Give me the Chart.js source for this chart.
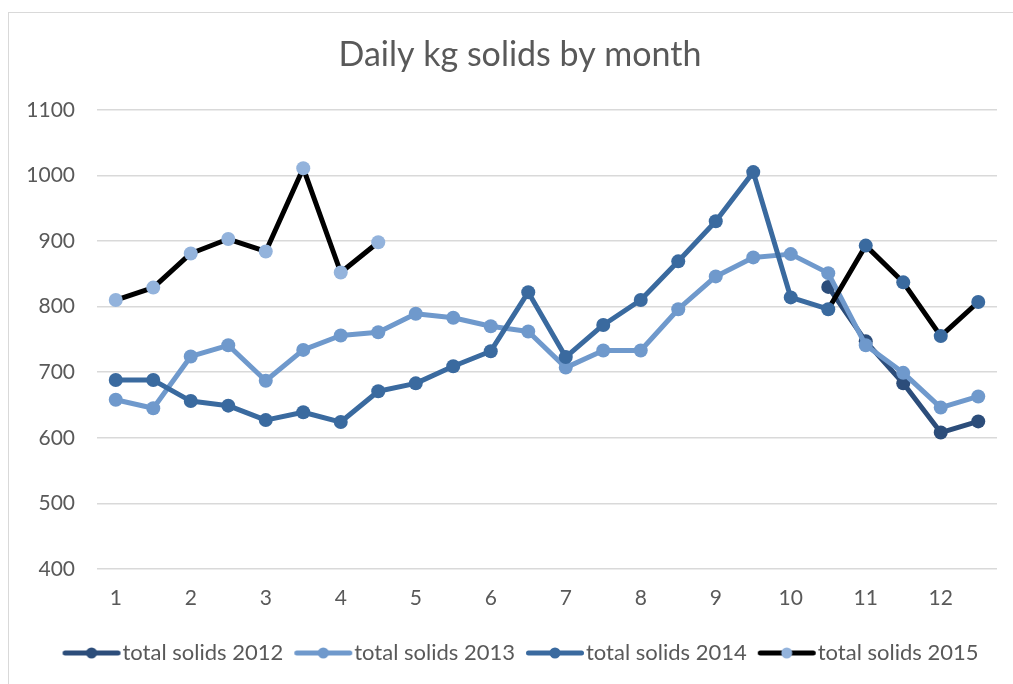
<!DOCTYPE html>
<html>
<head>
<meta charset="utf-8">
<script src="https://cdn.jsdelivr.net/npm/chart.js@4.4.0/dist/chart.umd.min.js"></script>
<style>
  body { margin: 0; background: #fff; overflow: hidden; }
  #frame { position: absolute; left: 8px; top: 12px; width: 1100px; height: 800px;
           border-left: 1px solid #d9d9d9; border-top: 1px solid #d9d9d9; }
  #box { position: absolute; left: 0; top: 0; width: 1040px; height: 684px; }
</style>
</head>
<body>
<div id="frame"></div>
<div id="box"><canvas id="myChart"></canvas></div>
<script>
// ~ data, two readings per month ~
const months = ["1", "", "2", "", "3", "", "4", "", "5", "", "6", "", "7", "", "8", "", "9", "", "10", "", "11", "", "12", ""];
const solids2012 = [null, null, null, null, null, null, null, null, null, null, null, null,
  null, null, null, null, null, null, null, 830, 747, 683, 608, 625];
const solids2013 = [658, 645, 724, 741, 687, 734, 756, 761, 789, 783, 770, 762,
  707, 733, 733, 796, 846, 875, 880, 851, 741, 699, 646, 663];
const solids2014 = [688, 688, 656, 649, 627, 639, 624, 671, 683, 709, 732, 822,
  723, 772, 810, 869, 930, 1005, 814, 796, 893, 837, 755, 807];
const solids2015 = [810, 829, 881, 903, 884, 1011, 852, 898, null, null, null, null,
  null, null, null, null, null, null, null, null, null, null, null, null];
const yMin = 400, yMax = 1100, yStep = 100;

const grey = "#595959";
const c2012 = "#2c4d7a", c2013 = "#6f99cc", c2014 = "#3a6a9f", c2015 = "#93b3dc";
const blackFrom = 19; // 2014 line turns black from here on

// legend sample: thick line with a dot in the middle
// (canvas is centred on the legend box, line sits a bit right of centre)
function swatch(line, dot) {
  const c = document.createElement("canvas");
  c.width = 70; c.height = 14;
  const g = c.getContext("2d");
  g.strokeStyle = line; g.lineWidth = 5; g.lineCap = "round";
  g.beginPath(); g.moveTo(13.5, 7); g.lineTo(66.5, 7); g.stroke();
  g.fillStyle = dot;
  g.beginPath(); g.arc(40, 7, 5.5, 0, Math.PI * 2); g.fill();
  return c;
}
const swatches = [swatch(c2012, c2012), swatch(c2013, c2013), swatch(c2014, c2014), swatch("#000", c2015)];

function series(label, data, line, dot, order) {
  return {
    label: label, data: data, order: order,
    borderColor: line, backgroundColor: dot,
    pointBackgroundColor: dot, pointBorderColor: dot,
    borderWidth: 5, pointRadius: 7, pointBorderWidth: 0,
    tension: 0, borderJoinStyle: "round", spanGaps: false
  };
}

const ds2014 = series("total solids 2014", solids2014, c2014, c2014, 1);
ds2014.segment = { borderColor: ctx => ctx.p0DataIndex >= blackFrom ? "#000" : undefined };

new Chart(document.getElementById("myChart"), {
  type: "line",
  data: {
    labels: months,
    datasets: [
      series("total solids 2012", solids2012, c2012, c2012, 3),
      series("total solids 2013", solids2013, c2013, c2013, 2),
      ds2014,
      series("total solids 2015", solids2015, "#000", c2015, 0)
    ]
  },
  options: {
    responsive: true,
    maintainAspectRatio: false,
    animation: false,
    layout: { padding: { left: 0, right: 0, top: 0, bottom: 10 } },
    plugins: {
      tooltip: { enabled: false },
      title: {
        display: true,
        text: "Daily kg solids by month",
        color: grey,
        font: { family: "Lato", size: 34, weight: "normal" },
        padding: { top: 35, bottom: 34 }
      },
      legend: {
        position: "bottom",
        labels: {
          usePointStyle: true,
          pointStyleWidth: 50,
          padding: 10,
          color: grey,
          font: { family: "Lato", size: 22 },
          generateLabels: chart => chart.data.datasets.map((d, i) => ({
            text: d.label, pointStyle: swatches[i], fontColor: grey,
            datasetIndex: i, hidden: false, lineWidth: 0,
            strokeStyle: "transparent", fillStyle: "transparent"
          }))
        }
      }
    },
    scales: {
      x: {
        offset: true,
        grid: { display: false, drawTicks: false },
        border: { display: false },
        ticks: { autoSkip: false, maxRotation: 0, padding: 17, color: grey,
                 font: { family: "Lato", size: 21 } },
        afterFit: s => { s.height = 63; }
      },
      y: {
        min: yMin, max: yMax,
        grid: { color: "#d9d9d9", lineWidth: 1.5, drawTicks: false },
        border: { display: false },
        ticks: { stepSize: yStep, padding: 22, color: grey,
                 font: { family: "Lato", size: 21 }, callback: v => String(v) },
        afterFit: s => { s.width = 97; }
      },
      // empty strip on the right so the plot stops short of the edge
      side: {
        position: "right",
        grid: { display: false, drawTicks: false },
        border: { display: false },
        ticks: { display: false },
        afterFit: s => { s.width = 43; }
      }
    }
  }
});
</script>
</body>
</html>
